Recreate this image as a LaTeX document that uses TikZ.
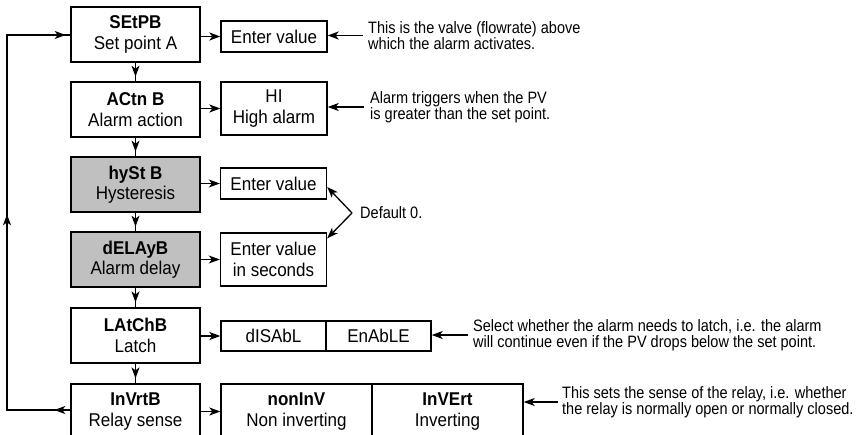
\documentclass[tikz,border=0pt]{standalone}
\usepackage{fontspec}
\setmainfont[FakeStretch=0.92]{Liberation Sans}
\newfontfamily\annfont[FakeStretch=0.88]{Liberation Sans}
\newcommand\bxfont{\fontsize{18.5}{20.5}\selectfont}
\newcommand\ntfont{\annfont\fontsize{16.5}{15.5}\selectfont}
\usetikzlibrary{arrows.meta,decorations.markings}
\definecolor{boxgray}{RGB}{192,192,192}
\tikzset{
  tip/.tip={Stealth[length=11pt,width=8pt,inset=3pt]},
  mainbox/.style={draw, line width=1.4pt, minimum width=129pt, minimum height=55pt,
    inner sep=0pt, align=center, font=\bxfont},
  optbox/.style={draw, line width=1.4pt, inner sep=0pt, align=center, font=\bxfont},
  shaded/.style={fill=boxgray},
  arr/.style={line width=1.3pt, -tip},
  note/.style={anchor=west, inner sep=0pt, align=left, font=\ntfont},
  downarr/.style={line width=1.3pt, postaction={decorate},
    decoration={markings, mark=at position 0.75 with {\arrow{tip}}}},
  looparr/.style={line width=1.3pt, postaction={decorate},
    decoration={markings,
      mark=at position 16pt with {\arrow{tip}},
      mark=at position 259pt with {\arrow{tip}},
      mark=at position 497pt with {\arrow{tip}}}}
}
\begin{document}
\begin{tikzpicture}[x=1pt,y=-1pt]
\useasboundingbox (0,0) rectangle (864,434);
% main column
\node[mainbox] (setp) at (135.5,34.5) {\textbf{SEtPB}\\Set point A};
\node[mainbox] (actn) at (135.5,109.5) {\textbf{ACtn B}\\Alarm action};
\node[mainbox,shaded] (hyst) at (135.5,184.5) {\textbf{hySt B}\\Hysteresis};
\node[mainbox,shaded] (dlay) at (135.5,259.5) {\textbf{dELAyB}\\Alarm delay};
\node[mainbox] (ltch) at (135.5,335.5) {\textbf{LAtChB}\\Latch};
\node[mainbox] (invr) at (135.5,411.5) {\textbf{InVrtB}\\Relay sense};
% option boxes
\node[optbox, minimum width=106pt, minimum height=31pt] (r1) at (274,36.5) {Enter value};
\node[optbox, minimum width=106pt, minimum height=53pt] (r2) at (274,108.5) {HI\\High alarm};
\node[optbox, minimum width=106pt, minimum height=31pt] (r3) at (273.5,183.5) {Enter value};
\node[optbox, minimum width=106pt, minimum height=53pt] (r4) at (273.5,259.5) {Enter value\\in seconds};
\node[optbox, minimum width=105pt, minimum height=30pt] (r5a) at (273.5,336) {dISAbL};
\node[optbox, minimum width=105pt, minimum height=30pt] (r5b) at (378.5,336) {EnAbLE};
\node[optbox, minimum width=151pt, minimum height=55pt] (r6a) at (296.5,411.5) {\textbf{nonInV}\\Non inverting};
\node[optbox, minimum width=151pt, minimum height=55pt] (r6b) at (447.5,411.5) {\textbf{InVErt}\\Inverting};
% vertical flow
\draw[downarr] (setp.south) -- (actn.north);
\draw[downarr] (actn.south) -- (hyst.north);
\draw[downarr] (hyst.south) -- (dlay.north);
\draw[downarr] (dlay.south) -- (ltch.north);
\draw[downarr] (ltch.south) -- (invr.north);
% horizontal to options
\draw[arr] (setp.east |- r1.west) -- (r1.west);
\draw[arr] (actn.east |- r2.west) -- (r2.west);
\draw[arr] (hyst.east |- r3.west) -- (r3.west);
\draw[arr] (dlay.east |- r4.west) -- (r4.west);
\draw[arr] (ltch.east |- r5a.west) -- (r5a.west);
\draw[arr] (invr.east |- r6a.west) -- (r6a.west);
% return loop
\coordinate (lb) at (7,410);
\coordinate (lt) at (7,35);
\draw[looparr] (invr.west |- lb) -- (lb) -- (lt) -- (setp.west |- lt);
% annotations
\node[note] (n1) at (368,35.5) {This is the valve (flowrate) above\\which the alarm activates.};
\draw[arr] ([xshift=-5pt]n1.west) -- (r1.east |- n1.west);
\node[note] (n2) at (370,107) {Alarm triggers when the PV\\is greater than the set point.};
\draw[arr] ([xshift=-6pt]n2.west) -- (r2.east |- n2.west);
\node[note] (n3) at (360,213) {Default 0.};
\coordinate (v) at (352,213);
\draw[arr] (v) -- ([yshift=-3.5pt]r3.east);
\draw[arr] (v) -- ([yshift=-6pt]r4.north east);
\node[note] (n5) at (473,335) {Select whether the alarm needs to latch, i.e. the alarm\\will continue even if the PV drops below the set point.};
\draw[arr] ([xshift=-5pt]n5.west) -- (r5b.east |- n5.west);
\node[note] (n6) at (562,402) {This sets the sense of the relay, i.e. whether\\the relay is normally open or normally closed.};
\draw[arr] ([xshift=-4pt]n6.west) -- (r6b.east |- n6.west);
\end{tikzpicture}
\end{document}
